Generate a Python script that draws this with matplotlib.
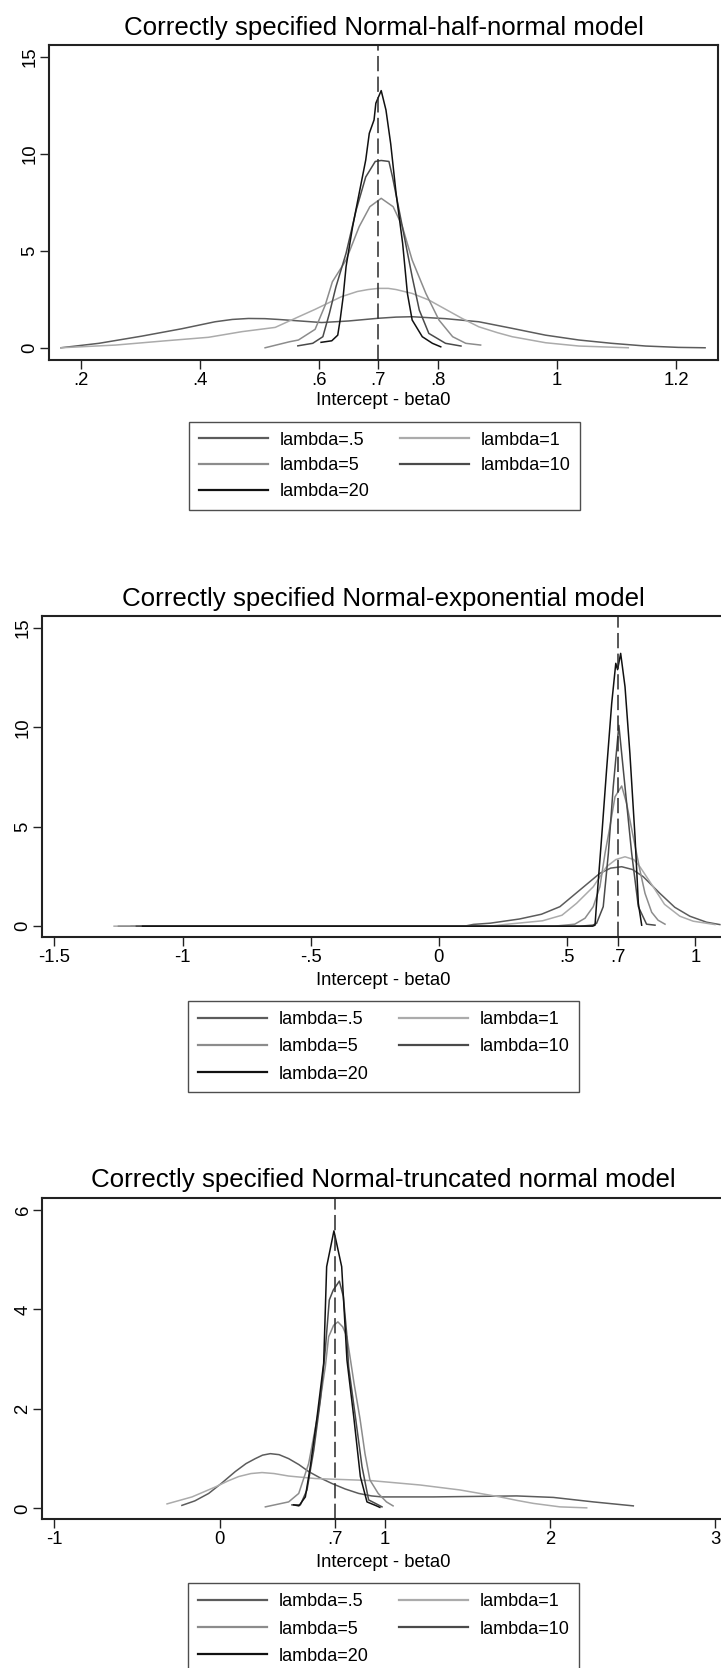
import matplotlib
matplotlib.use('Agg')
import matplotlib.pyplot as plt
from matplotlib.lines import Line2D

plt.rcParams['font.family'] = ['Liberation Sans', 'DejaVu Sans']

# ---- data (kernel density curves) ----
labels = ['lambda=.5', 'lambda=1', 'lambda=5', 'lambda=10', 'lambda=20']
colors = ['#5c5c5c', '#ababab', '#8c8c8c', '#4a4a4a', '#111111']

# panel 1: Normal-half-normal
hn_x_05 = [0.167, 0.231, 0.303, 0.370, 0.426, 0.455, 0.482, 0.510, 0.532, 0.560, 0.605, 0.650, 0.700, 0.730, 0.757, 0.813, 0.869, 0.925, 0.981, 1.037, 1.092, 1.149, 1.204, 1.249]
hn_y_05 = [0.00, 0.23, 0.60, 0.98, 1.34, 1.46, 1.51, 1.50, 1.46, 1.40, 1.30, 1.38, 1.52, 1.58, 1.60, 1.50, 1.34, 1.00, 0.65, 0.40, 0.23, 0.09, 0.02, 0.00]
hn_x_1 = [0.167, 0.259, 0.343, 0.415, 0.471, 0.527, 0.560, 0.594, 0.638, 0.665, 0.683, 0.700, 0.717, 0.730, 0.757, 0.785, 0.841, 0.869, 0.900, 0.925, 0.981, 1.037, 1.120]
hn_y_1 = [0.00, 0.14, 0.36, 0.54, 0.83, 1.05, 1.51, 1.98, 2.63, 2.90, 3.00, 3.06, 3.06, 3.00, 2.80, 2.46, 1.51, 1.08, 0.78, 0.57, 0.26, 0.09, 0.00]
hn_x_5 = [0.510, 0.551, 0.566, 0.594, 0.611, 0.623, 0.646, 0.668, 0.686, 0.705, 0.725, 0.740, 0.757, 0.780, 0.802, 0.825, 0.847, 0.872]
hn_y_5 = [0.00, 0.31, 0.40, 0.95, 2.20, 3.40, 4.52, 6.24, 7.27, 7.70, 7.27, 6.30, 4.52, 2.80, 1.43, 0.57, 0.23, 0.14]
hn_x_10 = [0.565, 0.590, 0.607, 0.618, 0.629, 0.646, 0.663, 0.679, 0.695, 0.705, 0.718, 0.724, 0.735, 0.746, 0.757, 0.769, 0.785, 0.813, 0.839]
hn_y_10 = [0.10, 0.23, 0.57, 1.77, 3.14, 4.87, 7.10, 8.80, 9.60, 9.65, 9.60, 8.80, 7.10, 5.38, 3.66, 1.94, 0.74, 0.23, 0.09]
hn_x_20 = [0.604, 0.622, 0.632, 0.636, 0.641, 0.646, 0.657, 0.668, 0.679, 0.685, 0.693, 0.696, 0.705, 0.713, 0.721, 0.730, 0.741, 0.749, 0.757, 0.774, 0.791, 0.805]
hn_y_20 = [0.28, 0.36, 0.65, 1.43, 2.60, 4.18, 6.24, 7.96, 9.67, 11.05, 11.74, 12.60, 13.25, 12.25, 10.50, 7.96, 5.38, 2.80, 1.43, 0.57, 0.23, 0.05]

# panel 2: Normal-exponential
ex_x_05 = [-1.200, 0.100, 0.135, 0.200, 0.314, 0.400, 0.472, 0.550, 0.628, 0.670, 0.713, 0.755, 0.797, 0.862, 0.920, 0.979, 1.044, 1.096]
ex_y_05 = [0.00, 0.00, 0.09, 0.15, 0.36, 0.60, 0.98, 1.82, 2.66, 2.92, 2.99, 2.85, 2.49, 1.65, 0.95, 0.50, 0.20, 0.08]
ex_x_1 = [-1.267, 0.200, 0.260, 0.404, 0.480, 0.537, 0.602, 0.654, 0.690, 0.726, 0.760, 0.784, 0.836, 0.880, 0.940, 0.992, 1.077]
ex_y_1 = [0.00, 0.00, 0.09, 0.27, 0.55, 1.15, 1.98, 2.99, 3.35, 3.49, 3.35, 2.99, 1.98, 1.10, 0.50, 0.25, 0.08]
ex_x_5 = [-1.250, 0.450, 0.530, 0.570, 0.602, 0.628, 0.648, 0.667, 0.687, 0.713, 0.732, 0.758, 0.784, 0.804, 0.830, 0.855, 0.882]
ex_y_5 = [0.00, 0.00, 0.10, 0.40, 0.98, 1.98, 3.66, 5.00, 6.51, 7.05, 6.18, 4.50, 2.82, 1.65, 0.70, 0.30, 0.10]
ex_x_10 = [-1.180, 0.550, 0.600, 0.615, 0.641, 0.661, 0.680, 0.702, 0.726, 0.752, 0.778, 0.810, 0.843]
ex_y_10 = [0.00, 0.00, 0.05, 0.14, 0.98, 3.66, 7.00, 10.10, 7.00, 3.66, 0.98, 0.10, 0.05]
ex_x_20 = [-1.156, 0.600, 0.609, 0.615, 0.635, 0.654, 0.674, 0.690, 0.697, 0.709, 0.726, 0.745, 0.765, 0.778, 0.791]
ex_y_20 = [0.00, 0.00, 0.05, 1.15, 4.50, 7.85, 11.20, 13.22, 12.90, 13.72, 12.04, 8.69, 4.50, 1.15, 0.05]

# panel 3: Normal-truncated normal
tn_x_05 = [-0.228, -0.150, -0.066, 0.010, 0.095, 0.160, 0.216, 0.260, 0.307, 0.360, 0.418, 0.480, 0.539, 0.610, 0.680, 0.760, 0.842, 0.920, 0.983, 1.294, 1.798, 2.020, 2.262, 2.504]
tn_y_05 = [0.06, 0.15, 0.30, 0.50, 0.74, 0.90, 1.00, 1.07, 1.10, 1.08, 1.00, 0.88, 0.74, 0.61, 0.50, 0.39, 0.30, 0.25, 0.23, 0.23, 0.25, 0.22, 0.13, 0.05]
tn_x_1 = [-0.318, -0.167, -0.026, 0.050, 0.116, 0.190, 0.257, 0.330, 0.418, 0.579, 0.740, 0.910, 1.213, 1.455, 1.697, 1.800, 1.899, 2.060, 2.222]
tn_y_1 = [0.09, 0.23, 0.43, 0.55, 0.64, 0.70, 0.72, 0.70, 0.65, 0.60, 0.58, 0.56, 0.47, 0.37, 0.23, 0.16, 0.10, 0.03, 0.01]
tn_x_5 = [0.277, 0.418, 0.479, 0.539, 0.600, 0.640, 0.660, 0.690, 0.716, 0.745, 0.771, 0.814, 0.850, 0.880, 0.910, 0.960, 1.010, 1.050]
tn_y_5 = [0.03, 0.13, 0.30, 0.90, 1.98, 2.85, 3.45, 3.68, 3.75, 3.65, 3.45, 2.51, 1.80, 1.10, 0.57, 0.30, 0.13, 0.05]
tn_x_10 = [0.438, 0.489, 0.529, 0.570, 0.610, 0.640, 0.664, 0.688, 0.725, 0.749, 0.769, 0.781, 0.822, 0.862, 0.902, 0.943, 0.983]
tn_y_10 = [0.07, 0.07, 0.37, 1.17, 2.18, 3.20, 4.19, 4.39, 4.57, 4.26, 3.52, 2.85, 1.84, 0.84, 0.17, 0.10, 0.03]
tn_x_20 = [0.448, 0.480, 0.519, 0.549, 0.590, 0.630, 0.648, 0.692, 0.739, 0.771, 0.812, 0.852, 0.892, 0.943, 0.970]
tn_y_20 = [0.07, 0.05, 0.23, 0.84, 1.84, 2.92, 4.86, 5.58, 4.86, 2.98, 1.84, 0.64, 0.13, 0.06, 0.02]

titles = ['Correctly specified Normal-half-normal model',
          'Correctly specified Normal-exponential model',
          'Correctly specified Normal-truncated normal model']
xticks1 = [0.2, 0.4, 0.6, 0.7, 0.8, 1.0, 1.2]
xticklabels1 = ['.2', '.4', '.6', '.7', '.8', '1', '1.2']
xticks2 = [-1.5, -1.0, -0.5, 0.0, 0.5, 0.7, 1.0]
xticklabels2 = ['-1.5', '-1', '-.5', '0', '.5', '.7', '1']
xticks3 = [-1, 0, 0.7, 1, 2, 3]
xticklabels3 = ['-1', '0', '.7', '1', '2', '3']
yticks12 = [0, 5, 10, 15]
yticks3 = [0, 2, 4, 6]

W, H = 721, 1668
fig = plt.figure(figsize=(W / 100, H / 100), dpi=100)


def box(l, r, t, b):
    return [l / W, 1 - b / H, (r - l) / W, (b - t) / H]


panels = [
    dict(rect=box(49.2, 718.2, 45, 360), xlim=(0.1474, 1.271), ylim=(-0.63, 15.6),
         xt=xticks1, xtl=xticklabels1, yt=yticks12,
         data=[(hn_x_05, hn_y_05), (hn_x_1, hn_y_1), (hn_x_5, hn_y_5), (hn_x_10, hn_y_10), (hn_x_20, hn_y_20)],
         title_y=34.5, xlab_y=405, leg_top=421.7, leg_cx=384.8, lsp=0.48),
    dict(rect=box(42.3, 725, 616.4, 937.5), xlim=(-1.547, 1.116), ylim=(-0.57, 15.58),
         xt=xticks2, xtl=xticklabels2, yt=yticks12,
         data=[(ex_x_05, ex_y_05), (ex_x_1, ex_y_1), (ex_x_5, ex_y_5), (ex_x_10, ex_y_10), (ex_x_20, ex_y_20)],
         title_y=605.7, xlab_y=985, leg_top=1001, leg_cx=383.9, lsp=0.57),
    dict(rect=box(42.3, 725, 1198.3, 1519.3), xlim=(-1.073, 3.059), ylim=(-0.22, 6.235),
         xt=xticks3, xtl=xticklabels3, yt=yticks3,
         data=[(tn_x_05, tn_y_05), (tn_x_1, tn_y_1), (tn_x_5, tn_y_5), (tn_x_10, tn_y_10), (tn_x_20, tn_y_20)],
         title_y=1187.3, xlab_y=1566.7, leg_top=1583.3, leg_cx=383.9, lsp=0.57),
]

for k, p in enumerate(panels):
    ax = fig.add_axes(p['rect'])
    for (xs, ys), c in zip(p['data'], colors):
        ax.plot(xs, ys, color=c, lw=1.1, solid_joinstyle='round')
    ax.axvline(0.7, color='#2a2a2a', lw=1.1, dashes=(10, 3.5))
    ax.set_xlim(*p['xlim'])
    ax.set_ylim(*p['ylim'])
    ax.set_xticks(p['xt'])
    ax.set_xticklabels(p['xtl'])
    ax.set_yticks(p['yt'])
    ax.set_yticklabels([str(v) for v in p['yt']], rotation=90, va='center')
    ax.tick_params(direction='out', length=6.2, width=1.0, labelsize=13.3, color='#222222')
    ax.tick_params(axis='x', pad=2.3)
    ax.tick_params(axis='y', pad=1.5)
    for s in ax.spines.values():
        s.set_linewidth(1.5)
        s.set_color('#222222')

    fig.text(383.7 / W, 1 - p['title_y'] / H, titles[k], ha='center', va='baseline', fontsize=18.6)
    fig.text(383.7 / W, 1 - p['xlab_y'] / H, 'Intercept - beta0', ha='center', va='baseline', fontsize=13.3)

    handles = [Line2D([], [], color=c, lw=1.6) for c in colors]
    order = [0, 2, 4, 1, 3]
    leg = fig.legend([handles[i] for i in order], [labels[i] for i in order], ncol=2,
                     loc='upper center', bbox_to_anchor=(p['leg_cx'] / W, 1 - p['leg_top'] / H),
                     frameon=True, fancybox=False, edgecolor='#222222', fontsize=13,
                     handlelength=3.8, handletextpad=0.65, columnspacing=1.7,
                     labelspacing=p['lsp'], borderpad=0.55, borderaxespad=0)
    leg.get_frame().set_linewidth(1.0)

fig.savefig('out.png', dpi=100)
